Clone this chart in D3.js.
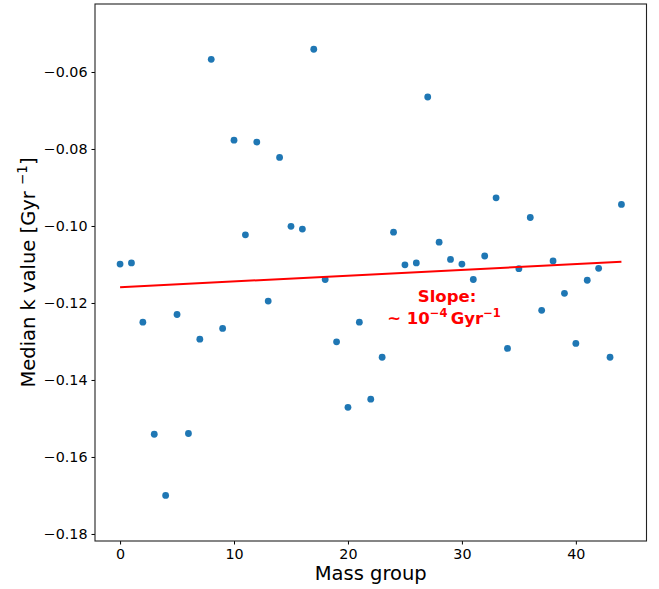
<!DOCTYPE html>
<html>
<head>
<meta charset="utf-8">
<script src="https://cdn.jsdelivr.net/npm/d3@7"></script>
<style>
  html, body { margin: 0; padding: 0; background: #fff; }
  svg { display: block; font-family: "DejaVu Sans", sans-serif; }
</style>
</head>
<body>
<svg id="chart" width="659" height="589"></svg>
<script>
// Mass group index and median k value per group
const massGroups = d3.range(0, 45);
const medianK = [
  -0.1099, -0.1096, -0.1250, -0.1541, -0.1700, -0.1230, -0.1539, -0.1294, -0.0567, -0.1266,
  -0.0777, -0.1023, -0.0782, -0.1195, -0.0822, -0.1001, -0.1008, -0.0541, -0.1139, -0.1301,
  -0.1471, -0.1250, -0.1450, -0.1341, -0.1016, -0.1101, -0.1096, -0.0665, -0.1042, -0.1087,
  -0.1099, -0.1139, -0.1078, -0.0927, -0.1318, -0.1111, -0.0978, -0.1219, -0.1091, -0.1175,
  -0.1305, -0.1141, -0.1110, -0.1341, -0.0944
];
// Linear fit endpoints (group, k)
const fitX = [0, 44];
const fitY = [-0.1159, -0.1093];

const xTicks = [0, 10, 20, 30, 40];
const yTicks = [-0.06, -0.08, -0.10, -0.12, -0.14, -0.16, -0.18];

const svg = d3.select("#chart");
const plotL = 95, plotR = 646.5, plotT = 4, plotB = 541;

const x = d3.scaleLinear().domain([-2.2, 46.2]).range([plotL, plotR]);
const y = d3.scaleLinear().domain([-0.18183, -0.04234]).range([plotB, plotT]);

const fmt = v => (v < 0 ? "\u2212" : "") + Math.abs(v).toFixed(2);

// Axes
const xAxis = d3.axisBottom(x).tickValues(xTicks).tickSize(3.5).tickPadding(4.5).tickFormat(d3.format("d"));
const yAxis = d3.axisLeft(y).tickValues(yTicks).tickSize(3.5).tickPadding(4).tickFormat(fmt);

const gx = svg.append("g").attr("transform", `translate(0,${plotB})`).call(xAxis);
const gy = svg.append("g").attr("transform", `translate(${plotL},0)`).call(yAxis);
[gx, gy].forEach(g => {
  g.select(".domain").remove();
  g.selectAll(".tick line").attr("stroke", "#000").attr("stroke-width", 1);
  g.selectAll(".tick text").attr("fill", "#000").attr("font-size", 14.3)
    .attr("font-family", "DejaVu Sans, sans-serif");
});

// Frame
svg.append("rect")
  .attr("x", plotL).attr("y", plotT)
  .attr("width", plotR - plotL).attr("height", plotB - plotT)
  .attr("fill", "none").attr("stroke", "#222").attr("stroke-width", 1.1);

// Scatter points
svg.append("g").selectAll("circle")
  .data(massGroups.map((g, i) => [g, medianK[i]]))
  .join("circle")
  .attr("cx", d => x(d[0]))
  .attr("cy", d => y(d[1]))
  .attr("r", 3.4)
  .attr("fill", "#1f77b4");

// Fit line
svg.append("path")
  .datum(fitX.map((v, i) => [v, fitY[i]]))
  .attr("d", d3.line().x(d => x(d[0])).y(d => y(d[1])))
  .attr("stroke", "#ff0000").attr("stroke-width", 2).attr("fill", "none");

// Slope annotation
const ann = svg.append("g").attr("fill", "#ff0000").attr("font-weight", "bold")
  .attr("font-size", 16.5).attr("text-anchor", "middle");
ann.append("text").attr("x", 447).attr("y", 302).text("Slope:");
const t2 = ann.append("text").attr("x", 444).attr("y", 324);
t2.append("tspan").text("~ 10");
t2.append("tspan").attr("font-size", 11.5).attr("dy", -7).text("\u22124");
t2.append("tspan").attr("dy", 7).text("\u2009Gyr");
t2.append("tspan").attr("font-size", 11.5).attr("dy", -7).text("\u22121");

// Axis labels
svg.append("text").attr("x", (plotL + plotR) / 2).attr("y", 580)
  .attr("text-anchor", "middle").attr("font-size", 19.5).attr("fill", "#000")
  .text("Mass group");

const yl = svg.append("text")
  .attr("transform", `translate(35,${(plotT + plotB) / 2}) rotate(-90)`)
  .attr("text-anchor", "middle").attr("font-size", 19.5).attr("fill", "#000");
yl.append("tspan").text("Median k value [Gyr ");
yl.append("tspan").attr("font-size", 13.5).attr("dy", -8).text("\u22121");
yl.append("tspan").attr("dy", 8).text("]");
</script>
</body>
</html>
